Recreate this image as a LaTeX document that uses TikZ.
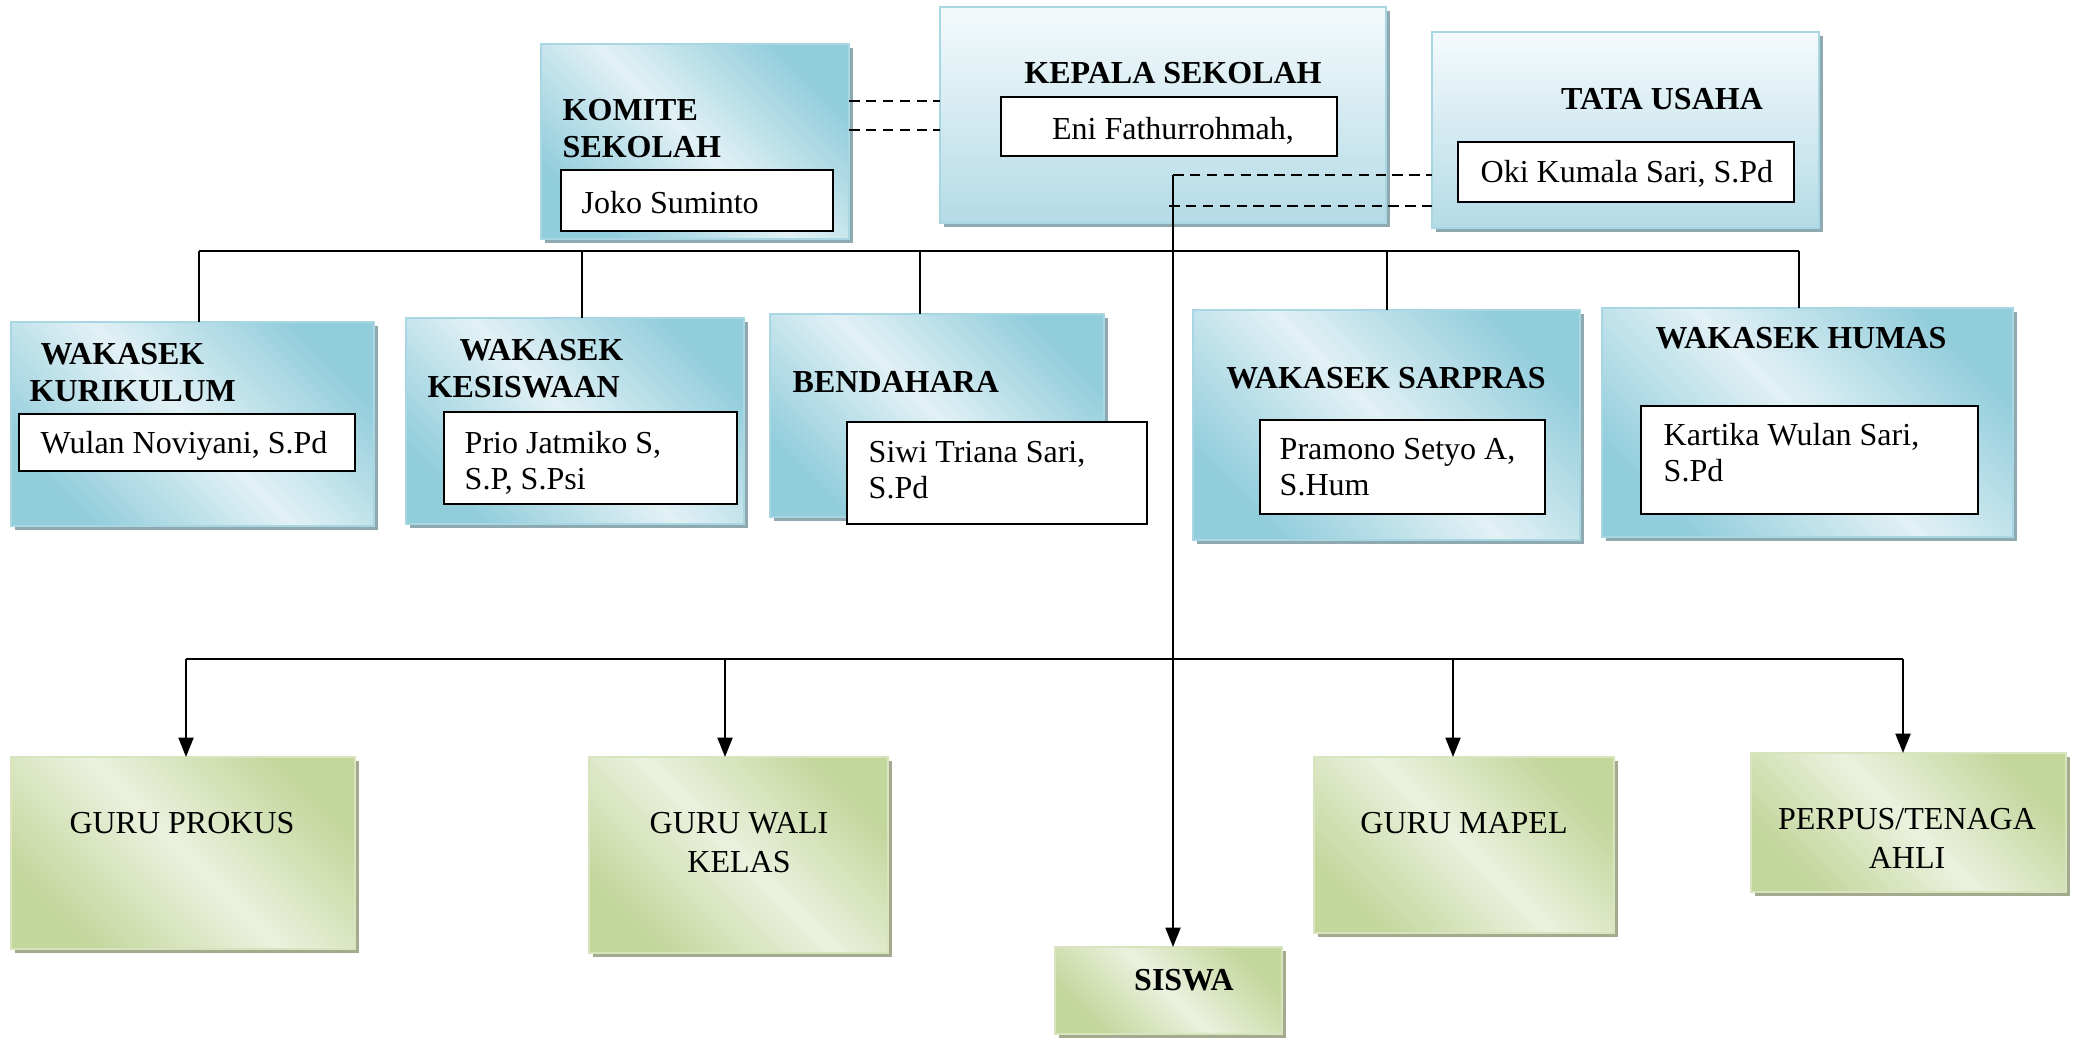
\documentclass[tikz,border=0pt]{standalone}
\usepackage{fontspec}
\setmainfont{Liberation Serif}
\usetikzlibrary{arrows.meta,fit,shadows}
\definecolor{bdark}{HTML}{92CDDC}
\definecolor{blight}{HTML}{E2F1F5}
\definecolor{bborder}{HTML}{A8D7E3}
\definecolor{bshadow}{HTML}{8FA9B1}
\definecolor{ktop}{HTML}{F4FAFC}
\definecolor{kbot}{HTML}{B4DBE6}
\definecolor{gdark}{HTML}{C3D69B}
\definecolor{glight}{HTML}{EBF1DE}
\definecolor{gborder}{HTML}{D7E4BD}
\definecolor{gshadow}{HTML}{A3AA8E}
\tikzset{
  box/.style={inner sep=0pt, outer sep=0pt, line width=0.5pt},
  bluediag/.style={box, draw=bborder, top color=bdark, bottom color=bdark, middle color=blight, shading angle=-45,
    drop shadow={shadow xshift=1.1pt, shadow yshift=-1.1pt, fill=bshadow, opacity=1}},
  bluevert/.style={box, draw=bborder, top color=ktop, bottom color=kbot,
    drop shadow={shadow xshift=1.1pt, shadow yshift=-1.1pt, fill=bshadow, opacity=1}},
  greendiag/.style={box, draw=gborder, top color=gdark, bottom color=gdark, middle color=glight, shading angle=-45,
    drop shadow={shadow xshift=1.1pt, shadow yshift=-1.1pt, fill=gshadow, opacity=1}},
  whitebox/.style={box, draw=black, fill=white, line width=0.7pt},
  txt/.style={inner sep=0pt, font=\fontsize{9.1}{10.4}\selectfont, text height=6pt, text depth=0pt},
  btxt/.style={txt, font=\fontsize{9.1}{10.4}\selectfont\bfseries},
  conn/.style={line width=0.75pt, draw=black},
  dconn/.style={conn, dash pattern=on 3pt off 1.8pt},
  arr/.style={conn, -{Triangle[length=5.5pt, width=4.2pt]}}
}
\begin{document}
\begin{tikzpicture}[x=0.01cm, y=-0.01cm]
\useasboundingbox (0,0) rectangle (2079,1039);
\clip (0,0) rectangle (2079,1039);
\fill[white] (0,0) rectangle (2079,1039);

% top row
\node[bluediag, fit={(541,44) (849,239)}] (komite) {};
\node[whitebox, fit={(561,170) (833,231)}] (komiteIn) {};
\node[bluevert, fit={(940,7) (1386,223)}] (kepala) {};
\node[whitebox, fit={(1001,97) (1337,156)}] (kepalaIn) {};
\node[bluevert, fit={(1432,32) (1819,228)}] (tata) {};
\node[whitebox, fit={(1458,142) (1794,202)}] (tataIn) {};

% wakasek row
\node[bluediag, fit={(11,322) (374,526)}] (kur) {};
\node[whitebox, fit={(19,414) (355,471)}] (kurIn) {};
\node[bluediag, fit={(406,318) (744,524)}] (kes) {};
\node[whitebox, fit={(444,412) (737,504)}] (kesIn) {};
\node[bluediag, fit={(770,314) (1104,517)}] (ben) {};
\node[whitebox, fit={(847,422) (1147,524)}] (benIn) {};
\node[bluediag, fit={(1193,310) (1580,540)}] (sar) {};
\node[whitebox, fit={(1260,420) (1545,514)}] (sarIn) {};
\node[bluediag, fit={(1602,308) (2013,537)}] (hum) {};
\node[whitebox, fit={(1641,406) (1978,514)}] (humIn) {};

% bottom row
\node[greendiag, fit={(11,757) (355,949)}] (prokus) {};
\node[greendiag, fit={(589,757) (888,953)}] (wali) {};
\node[greendiag, fit={(1314,757) (1614,933)}] (mapel) {};
\node[greendiag, fit={(1751,753) (2066,892)}] (perpus) {};
\node[greendiag, fit={(1055,947) (1282,1034)}] (siswa) {};

% texts
\node[btxt, anchor=west] (tKom1) at (562,110) {KOMITE};
\node[btxt, anchor=west] (tKom2) at (562,147) {SEKOLAH};
\node[txt, anchor=west] (tJoko) at (581,203) {Joko Suminto};
\node[btxt] (tKep) at (1173,73) {KEPALA SEKOLAH};
\node[txt] (tEni) at (1173,129) {Eni Fathurrohmah,};
\node[btxt] (tTata) at (1662,99) {TATA USAHA};
\node[txt, anchor=west] (tOki) at (1480,172) {Oki Kumala Sari, S.Pd};

\node[btxt, anchor=west] (tKur1) at (40,354) {WAKASEK};
\node[btxt, anchor=west] (tKur2) at (29,391) {KURIKULUM};
\node[txt, anchor=west] (tWulan) at (40,443) {Wulan Noviyani, S.Pd};
\node[btxt, anchor=west] (tKes1) at (459,350) {WAKASEK};
\node[btxt, anchor=west] (tKes2) at (427,387) {KESISWAAN};
\node[txt, anchor=west] (tPrio1) at (464,443) {Prio Jatmiko S,};
\node[txt, anchor=west] (tPrio2) at (464,479) {S.P, S.Psi};
\node[btxt, anchor=west] (tBen) at (792,382) {BENDAHARA};
\node[txt, anchor=west] (tSiwi1) at (868,452) {Siwi Triana Sari,};
\node[txt, anchor=west] (tSiwi2) at (868,488) {S.Pd};
\node[btxt] (tSar) at (1386,378) {WAKASEK SARPRAS};
\node[txt, anchor=west] (tPram1) at (1279,449) {Pramono Setyo A,};
\node[txt, anchor=west] (tPram2) at (1279,485) {S.Hum};
\node[btxt] (tHum) at (1801,338) {WAKASEK HUMAS};
\node[txt, anchor=west] (tKar1) at (1663,435) {Kartika Wulan Sari,};
\node[txt, anchor=west] (tKar2) at (1663,471) {S.Pd};

\node[txt] (tProkus) at (182,823) {GURU PROKUS};
\node[txt] (tWali1) at (739,823) {GURU WALI};
\node[txt] (tWali2) at (739,862) {KELAS};
\node[txt] (tMapel) at (1464,823) {GURU MAPEL};
\node[txt] (tPerp1) at (1907,819) {PERPUS/TENAGA};
\node[txt] (tPerp2) at (1907,858) {AHLI};
\node[btxt] (tSiswa) at (1184,980) {SISWA};

% connectors
\draw[dconn] (komite.east |- 0,101) -- (kepala.west |- 0,101);
\draw[dconn] (komite.east |- 0,130) -- (kepala.west |- 0,130);
\coordinate (vtop) at (1173,175);
\coordinate (vlow) at (1169,206);
\draw[dconn] (vtop) -- (tata.west |- vtop);
\draw[dconn] (vlow) -- (tata.west |- vlow);
\draw[arr] (vtop) -- (vtop |- siswa.north);

\coordinate (b1) at (199,251);
\coordinate (b2) at (582,251);
\coordinate (b3) at (920,251);
\coordinate (b4) at (1387,251);
\coordinate (b5) at (1799,251);
\draw[conn] (b1) -- (b5);
\draw[conn] (b1) -- (b1 |- kur.north);
\draw[conn] (b2) -- (b2 |- kes.north);
\draw[conn] (b3) -- (b3 |- ben.north);
\draw[conn] (b4) -- (b4 |- sar.north);
\draw[conn] (b5) -- (b5 |- hum.north);

\coordinate (g1) at (186,659);
\coordinate (g2) at (725,659);
\coordinate (g3) at (1453,659);
\coordinate (g4) at (1903,659);
\draw[conn] (g1) -- (g4);
\draw[arr] (g1) -- (g1 |- prokus.north);
\draw[arr] (g2) -- (g2 |- wali.north);
\draw[arr] (g3) -- (g3 |- mapel.north);
\draw[arr] (g4) -- (g4 |- perpus.north);
\end{tikzpicture}
\end{document}
